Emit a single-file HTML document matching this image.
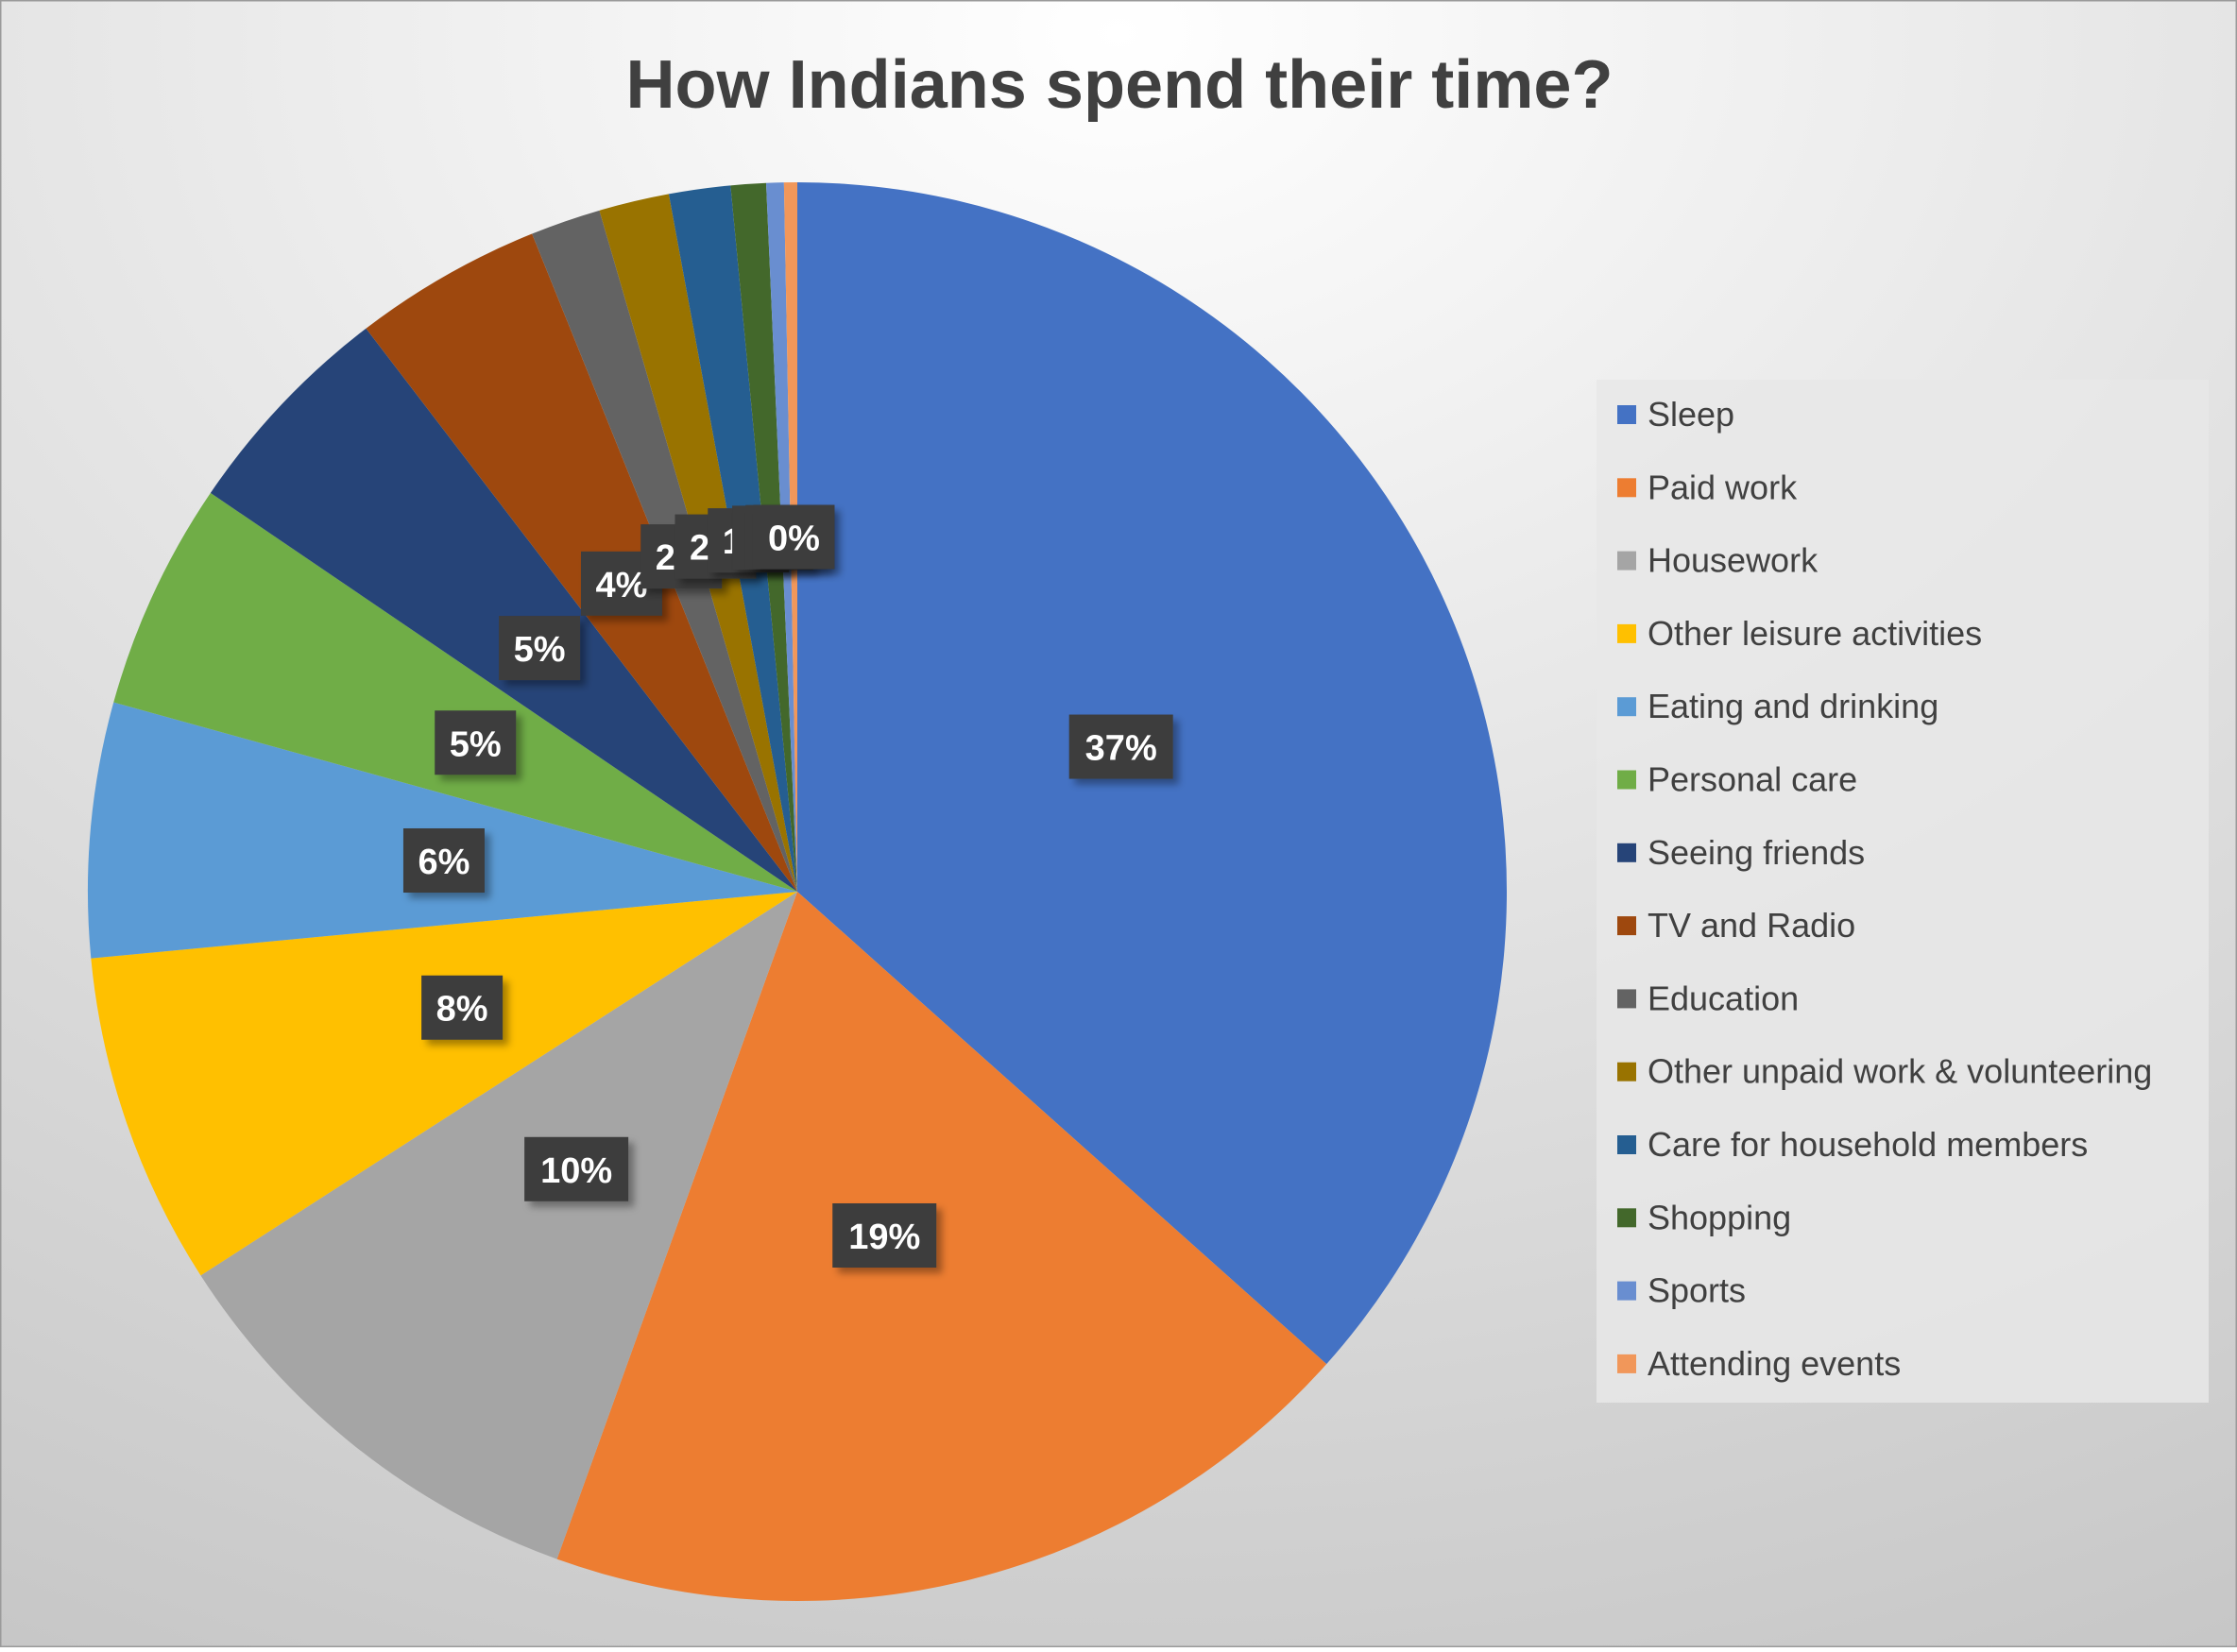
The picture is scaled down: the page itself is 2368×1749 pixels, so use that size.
<!DOCTYPE html>
<html>
<head>
<meta charset="utf-8">
<style>
html,body{margin:0;padding:0;}
body{width:2368px;height:1744px;overflow:hidden;font-family:"Liberation Sans",sans-serif;}
</style>
</head>
<body>
<svg id="chart" width="2368" height="1744" viewBox="0 0 2368 1744" xmlns="http://www.w3.org/2000/svg">
<defs>
<radialGradient id="bg" cx="0.5" cy="0.02" r="1.15" fx="0.5" fy="0.02">
<stop offset="0" stop-color="#ffffff"/>
<stop offset="0.45" stop-color="#e4e4e4"/>
<stop offset="1" stop-color="#c4c4c4"/>
</radialGradient>
<filter id="sh" x="-20%" y="-20%" width="150%" height="150%">
<feDropShadow dx="6" dy="6" stdDeviation="4" flood-color="#000" flood-opacity="0.35"/>
</filter>
</defs>
<rect x="0" y="0" width="2368" height="1744" fill="url(#bg)" stroke="#9a9a9a" stroke-width="3"/>
<text x="1185" y="114" text-anchor="middle" font-size="72" font-weight="bold" fill="#404040" textLength="1045" lengthAdjust="spacingAndGlyphs">How Indians spend their time?</text>
<g id="slices"></g>
<g id="labels"></g>
<rect x="1690" y="402" width="648" height="1083" fill="#e8e8e8" fill-opacity="0.85"/>
<g id="legend"></g>
</svg>
<script>
const categories = ["Sleep","Paid work","Housework","Other leisure activities","Eating and drinking","Personal care","Seeing friends","TV and Radio","Education","Other unpaid work & volunteering","Care for household members","Shopping","Sports","Attending events"];
const values = [36.6,18.9,10.4,7.6,5.8,5.2,5.1,4.3,1.6,1.6,1.4,0.8,0.4,0.3];
const colors = ["#4472c4","#ed7d31","#a5a5a5","#ffc000","#5b9bd5","#70ad47","#264478","#9e480e","#636363","#997300","#255e91","#43682b","#698ed0","#f1975a"];

const NS = "http://www.w3.org/2000/svg";
const cx = 844, cy = 944, R = 751;
const total = values.reduce((a,b)=>a+b,0);
const sliceG = document.getElementById('slices');
const labelG = document.getElementById('labels');
const legendG = document.getElementById('legend');
function pt(a, r){ return [cx + r*Math.sin(a), cy - r*Math.cos(a)]; }
let acc = 0;
const mids = [];
values.forEach((v,i)=>{
  const a0 = acc/total*2*Math.PI; acc += v;
  const a1 = acc/total*2*Math.PI;
  const [x0,y0] = pt(a0,R), [x1,y1] = pt(a1,R);
  const large = (a1-a0) > Math.PI ? 1 : 0;
  const p = document.createElementNS(NS,'path');
  p.setAttribute('d',`M${cx},${cy} L${x0},${y0} A${R},${R} 0 ${large} 1 ${x1},${y1} Z`);
  p.setAttribute('fill',colors[i]);
  
  
  sliceG.appendChild(p);
  mids.push((a0+a1)/2);
});
values.forEach((v,i)=>{
  const [lx,ly] = pt(mids[i], R*0.5);
  const txt = Math.round(v/total*100) + '%';
  const g = document.createElementNS(NS,'g');
  
  
  const w = txt.length > 2 ? 110 : 86, h = 68;
  const r = document.createElementNS(NS,'rect');
  r.setAttribute('x', lx - w/2); r.setAttribute('y', ly - h/2);
  r.setAttribute('width', w); r.setAttribute('height', h);
  r.setAttribute('fill','#3c3c3c'); r.setAttribute('filter','url(#sh)');
  g.appendChild(r);
  const t = document.createElementNS(NS,'text');
  t.setAttribute('x', lx); t.setAttribute('y', ly + 14);
  t.setAttribute('text-anchor','middle'); t.setAttribute('font-size','38');
  t.setAttribute('font-weight','bold'); t.setAttribute('fill','#ffffff');
  t.textContent = txt;
  g.appendChild(t);
  labelG.appendChild(g);
});
categories.forEach((c,i)=>{
  const y = 439 + i*77.3;
  const g = document.createElementNS(NS,'g');
  
  
  const r = document.createElementNS(NS,'rect');
  r.setAttribute('x',1712); r.setAttribute('y',y-10); r.setAttribute('width',20); r.setAttribute('height',20);
  r.setAttribute('fill',colors[i]);
  g.appendChild(r);
  const t = document.createElementNS(NS,'text');
  t.setAttribute('x',1744); t.setAttribute('y',y+12);
  t.setAttribute('font-size','36'); t.setAttribute('fill','#404040');
  t.textContent = c;
  g.appendChild(t);
  legendG.appendChild(g);
});
</script>
</body>
</html>
